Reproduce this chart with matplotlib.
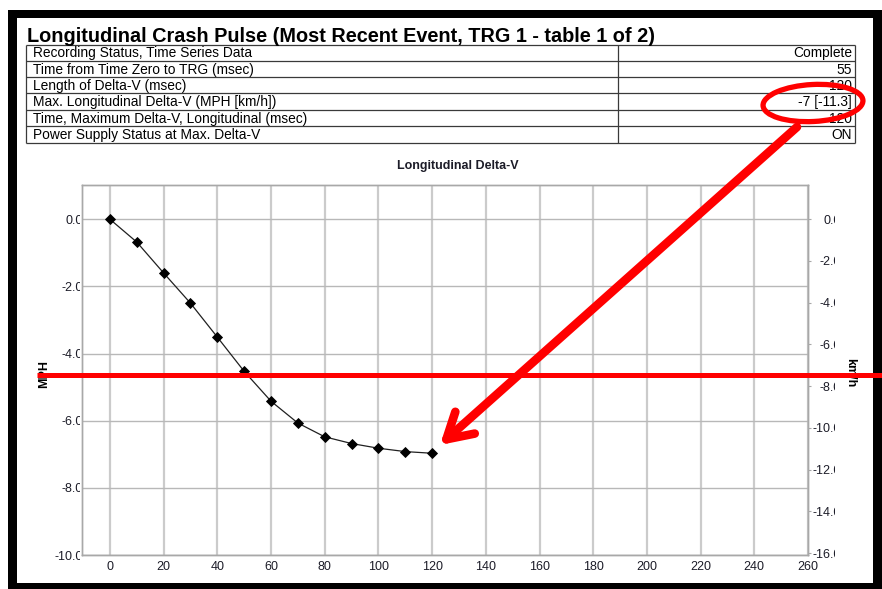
import matplotlib
matplotlib.use('Agg')
import matplotlib.pyplot as plt
from matplotlib.patches import Rectangle, Ellipse
from matplotlib.transforms import Bbox

plt.rcParams['font.family'] = ['Liberation Sans', 'DejaVu Sans']

W, H = 882, 589

# ---- data ----
time_ms = [0, 10, 20, 30, 40, 50, 60, 70, 80, 90, 100, 110, 120]
delta_v_mph = [0.0, -0.68, -1.60, -2.50, -3.51, -4.53, -5.42, -6.07, -6.48,
               -6.68, -6.82, -6.92, -6.97]
x_ticks = [0, 20, 40, 60, 80, 100, 120, 140, 160, 180, 200, 220, 240, 260]
mph_ticks = [0, -2, -4, -6, -8, -10]
kmh_ticks = [0, -2, -4, -6, -8, -10, -12, -14, -16]
MPH_TO_KMH = 1.609344

page_title = "Longitudinal Crash Pulse (Most Recent Event, TRG 1 - table 1 of 2)"
table_labels = ["Recording Status, Time Series Data",
                "Time from Time Zero to TRG (msec)",
                "Length of Delta-V (msec)",
                "Max. Longitudinal Delta-V (MPH [km/h])",
                "Time, Maximum Delta-V, Longitudinal (msec)",
                "Power Supply Status at Max. Delta-V"]
table_values = ["Complete", "55", "120", "-7 [-11.3]", "120", "ON"]
chart_title = "Longitudinal Delta-V"

TXT = '#1c1c28'
GRID_V = '#cbcbcb'
GRID_H = '#b8b8b8'
SPINE = '#a8a8a8'

fig = plt.figure(figsize=(W / 100, H / 100), dpi=100)
fig.patch.set_facecolor('white')

# ---- background: frame, title, table ----
bg = fig.add_axes([0, 0, 1, 1], zorder=0)
bg.set_xlim(0, W)
bg.set_ylim(H, 0)
bg.axis('off')
bg.add_patch(Rectangle((8, 10), W, H, color='black', lw=0))
bg.add_patch(Rectangle((17, 18), 873 - 17, 583 - 18, color='white', lw=0))

bg.text(27, 41.5, page_title, fontsize=14.3, fontweight='bold', color='black',
        va='baseline', ha='left')

row_edges = [44.5, 60.5, 77, 93, 109.5, 126, 142.5]
tl, tm, tr = 26, 618, 855
for ye in row_edges:
    bg.plot([tl, tr], [ye, ye], color='#3a3a3a', lw=0.9, solid_capstyle='butt')
for xe in (tl, tm, tr):
    bg.plot([xe, xe], [row_edges[0], row_edges[-1]], color='#3a3a3a', lw=0.9,
            solid_capstyle='butt')
for i, (lab, val) in enumerate(zip(table_labels, table_values)):
    yc = (row_edges[i] + row_edges[i + 1]) / 2 + 1.0
    bg.text(33, yc, lab, fontsize=9.9, va='center', ha='left', color='black')
    bg.text(852, yc, val, fontsize=9.9, va='center', ha='right', color='black')

bg.text(458, 166, chart_title, fontsize=9, fontweight='bold', ha='center',
        va='center', color=TXT)

# ---- chart ----
L, R, T, B = 82, 808, 185, 555
ax = fig.add_axes([L / W, 1 - B / H, (R - L) / W, (B - T) / H], zorder=1)
ax.set_facecolor('none')
ax.set_xlim(-10.4, 260)
ax.set_ylim(-10, 1.02)
ax.set_xticks(x_ticks, [str(v) for v in x_ticks])
ax.set_yticks(mph_ticks, [f'{v:.1f}' for v in mph_ticks])
ax.set_axisbelow(True)
ax.grid(axis='x', color=GRID_V, lw=1.6)
ax.grid(axis='y', color=GRID_H, lw=1.0)
for s in ax.spines.values():
    s.set_color(SPINE)
    s.set_linewidth(1.0)
ax.tick_params(axis='x', length=0, pad=4.5, labelsize=9, labelcolor=TXT)
ax.tick_params(axis='y', length=0, pad=-0.7, labelsize=9, labelcolor=TXT)

ax.plot(time_ms, delta_v_mph, color='#202020', lw=0.9, marker='D', ms=4.8,
        mfc='black', mec='black', mew=0.6, zorder=3, clip_on=False)

ax2 = ax.twinx()
ax2.set_ylim(-10 * MPH_TO_KMH, 1.02 * MPH_TO_KMH)
ax2.set_yticks(kmh_ticks, [f'{v:.1f}' for v in kmh_ticks])
ax2.tick_params(axis='y', length=2.2, width=0.8, color=SPINE, pad=21.2,
                labelsize=9, labelcolor=TXT)
for s in ax2.spines.values():
    s.set_color(SPINE)
    s.set_linewidth(1.0)

fig.text(44 / W, 1 - 374 / H, 'MPH', rotation=90, fontsize=9, fontweight='bold',
         ha='center', va='center', color='black')
fig.text(850 / W, 1 - 373 / H, 'km/h', rotation=270, fontsize=9,
         fontweight='bold', ha='center', va='center', color='black')

# clip tick labels like the original
left_clip = Bbox.from_extents(0, 0, 80, H)
for lbl in ax.get_yticklabels():
    lbl.set_clip_box(left_clip)
    lbl.set_clip_on(True)
right_clip = Bbox.from_extents(0, 0, 835, H)
for lbl in ax2.get_yticklabels():
    lbl.set_horizontalalignment('right')
    lbl.set_clip_box(right_clip)
    lbl.set_clip_on(True)

# ---- red overlay annotations ----
ov = fig.add_axes([0, 0, 1, 1], zorder=5)
ov.set_xlim(0, W)
ov.set_ylim(H, 0)
ov.axis('off')
ov.set_facecolor('none')
ov.plot([37, W + 2], [374.8, 374.8], color='red', lw=3.6, solid_capstyle='butt')
ov.add_patch(Ellipse((813, 103), 100, 37, angle=-3, fill=False, ec='red', lw=3.8))
ov.annotate('', xy=(440, 445), xytext=(797, 127),
            arrowprops=dict(arrowstyle='->,head_length=1.8,head_width=1.05',
                            lw=6.2, color='red', shrinkA=0, shrinkB=0,
                            capstyle='round', joinstyle='round'))

fig.savefig('out.png', dpi=100)
